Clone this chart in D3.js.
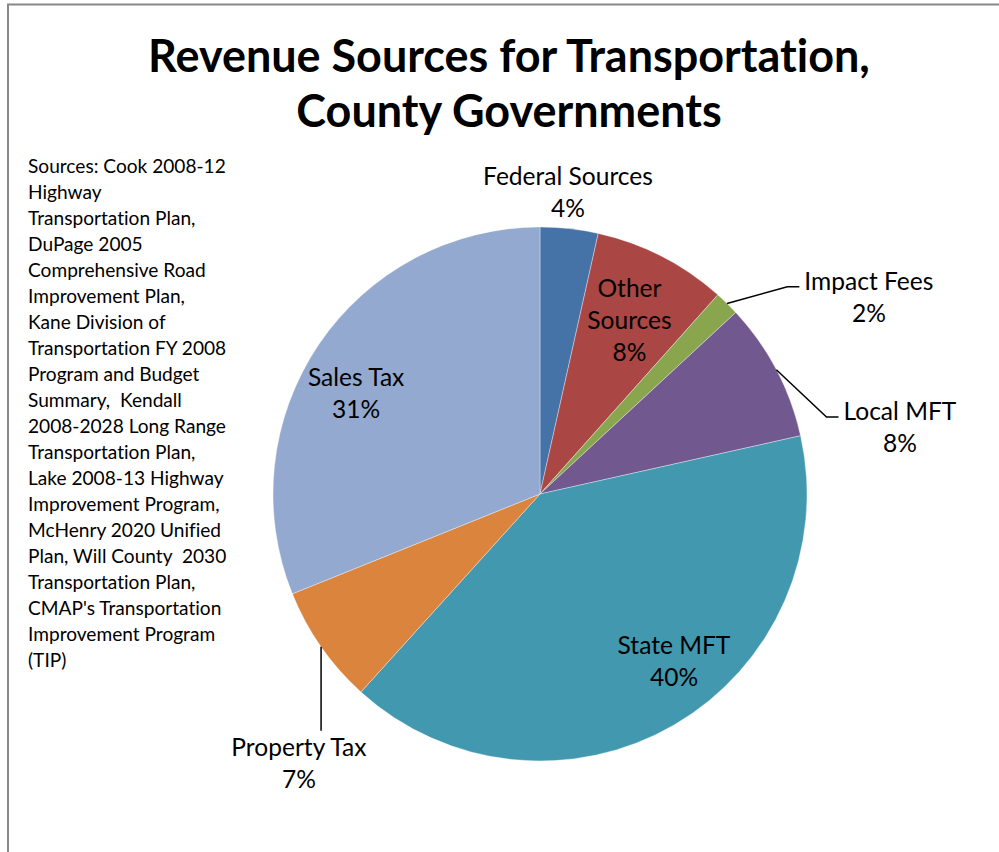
<!DOCTYPE html>
<html>
<head>
<meta charset="utf-8">
<script src="https://cdn.jsdelivr.net/npm/d3@7"></script>
<style>
  body { margin: 0; background: #fff; }
  svg { display: block; font-family: Lato, "Open Sans", sans-serif; font-variant-ligatures: none; }
  text { white-space: pre; }
</style>
</head>
<body>
<div id="chart"></div>
<script>
// Revenue sources, county governments (share of total, %)
const categories = ["Federal Sources", "Other Sources", "Impact Fees", "Local MFT", "State MFT", "Property Tax", "Sales Tax"];
const values = [3.5, 8.1, 1.5, 8.4, 40.2, 7.2, 31.1];
const colors = ["#4572A7", "#AA4643", "#89A54E", "#71588F", "#4198AF", "#DB843D", "#93A9CF"];

const titleLines = ["Revenue Sources for Transportation,", "County Governments"];
const sourceLines = [
    "Sources: Cook 2008-12", "Highway", "Transportation Plan,", "DuPage 2005",
    "Comprehensive Road", "Improvement Plan,", "Kane Division of", "Transportation FY 2008",
    "Program and Budget", "Summary,  Kendall", "2008-2028 Long Range", "Transportation Plan,",
    "Lake 2008-13 Highway", "Improvement Program,", "McHenry 2020 Unified", "Plan, Will County  2030",
    "Transportation Plan,", "CMAP's Transportation", "Improvement Program", "(TIP)"
];

// label placement: radius factor of R, angle shift from slice middle (deg)
const labelLayout = [
    {rf: 1.135, da: -1},
    {rf: 0.734, da: 0, wrap: true},
    {rf: 1.436, da: 14.6, leader: "elbow"},
    {rf: 1.371, da: 17.2, leader: "elbow"},
    {rf: 0.802, da: -8.5},
    {rf: 1.353, da: -13.2, leader: "down"},
    {rf: 0.786, da: -5.2}
];

const W = 999, H = 852;
const cx = 540, cy = 494, R = 267;

const svg = d3.select("#chart").append("svg")
    .attr("width", W)
    .attr("height", H);

// frame (top and left edges visible)
svg.append("line").attr("x1", 7).attr("x2", W).attr("y1", 4.5).attr("y2", 4.5)
    .attr("stroke", "#888").attr("stroke-width", 2);
svg.append("line").attr("x1", 8).attr("x2", 8).attr("y1", 4).attr("y2", H)
    .attr("stroke", "#888").attr("stroke-width", 2);

// scale a text's font-size so it spans the given width
function fitSize(family, weight, text, target) {
    const t = svg.append("text").style("font-family", family).style("font-weight", weight)
        .style("font-size", "100px").text(text);
    const w = t.node().getComputedTextLength();
    t.remove();
    return 100 * target / w;
}

const fam = "Lato";
const titleSize = fitSize(fam, 700, titleLines[0], 722);
const labelSize = fitSize(fam, 400, "Federal Sources", 170);
const noteSize = fitSize(fam, 400, sourceLines[0], 198);

// title
svg.append("g").selectAll("text")
    .data(titleLines)
    .join("text")
    .attr("x", 509)
    .attr("y", (d, i) => 72 + i * 55)
    .attr("text-anchor", "middle")
    .style("font-weight", 700)
    .style("font-size", titleSize + "px")
    .attr("fill", "#000")
    .text(d => d);

// source note
svg.append("g").selectAll("text")
    .data(sourceLines)
    .join("text")
    .attr("x", 28)
    .attr("y", (d, i) => 173 + i * 26)
    .style("font-size", noteSize + "px")
    .attr("fill", "#000")
    .text(d => d);

// pie
const pie = d3.pie().sort(null).value(d => d)(values);
const arc = d3.arc().innerRadius(0).outerRadius(R);

const g = svg.append("g").attr("transform", `translate(${cx},${cy})`);

g.selectAll("path")
    .data(pie)
    .join("path")
    .attr("d", arc)
    .attr("fill", (d, i) => colors[i])
    .attr("stroke", "rgba(255,255,255,0.6)")
    .attr("stroke-width", 0.6);

// labels
const lineH = 32;
pie.forEach((d, i) => {
    const lay = labelLayout[i];
    const mid = (d.startAngle + d.endAngle) / 2;
    const [lx, ly] = d3.pointRadial(mid + lay.da * Math.PI / 180, lay.rf * R);
    const lines = (lay.wrap ? categories[i].split(" ") : [categories[i]])
        .concat([Math.round(d.value) + "%"]);
    const n = lines.length;

    const txt = g.append("g").selectAll("text")
        .data(lines)
        .join("text")
        .attr("x", lx)
        .attr("y", (t, k) => ly + (k - (n - 1) / 2) * lineH)
        .attr("dy", "0.36em")
        .attr("text-anchor", "middle")
        .style("font-size", labelSize + "px")
        .attr("fill", "#000")
        .text(t => t);

    if (lay.leader) {
        const [ax, ay] = d3.pointRadial(mid, R);
        const first = txt.nodes()[0];
        const bb = first.getBBox();
        const base = ly - (n - 1) / 2 * lineH + 0.36 * labelSize;
        let pts;
        if (lay.leader === "elbow") {
            const ex = bb.x - 5, ey = base - 3;
            pts = [[ax, ay], [ex - 12, ey], [ex, ey]];
        } else {
            pts = [[ax, ay], [ax, base - 25]];
        }
        g.append("path")
            .attr("d", d3.line()(pts))
            .attr("fill", "none")
            .attr("stroke", "#000")
            .attr("stroke-width", 1.5);
    }
});
</script>
</body>
</html>
